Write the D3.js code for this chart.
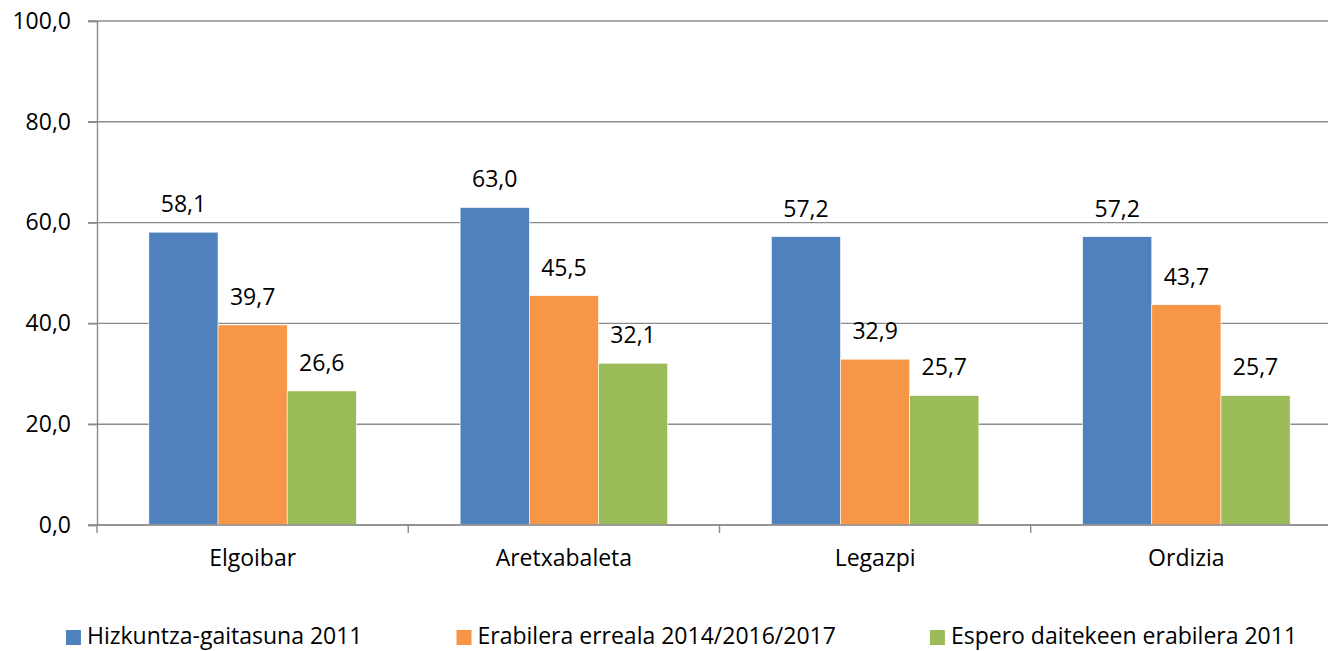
<!DOCTYPE html>
<html>
<head>
<meta charset="utf-8">
<script src="https://cdn.jsdelivr.net/npm/d3@7"></script>
<style>
    body { margin: 0; background: #fff; }
    text { font-family: "Open Sans", "Noto Sans", sans-serif; fill: #000; }
</style>
</head>
<body>
<div id="chart"></div>
<script>
// Data
const towns = ['Elgoibar', 'Aretxabaleta', 'Legazpi', 'Ordizia'];
const seriesNames = ['Hizkuntza-gaitasuna 2011', 'Erabilera erreala 2014/2016/2017', 'Espero daitekeen erabilera 2011'];
const gaitasuna = [58.1, 63.0, 57.2, 57.2];
const erabilera = [39.7, 45.5, 32.9, 43.7];
const espero = [26.6, 32.1, 25.7, 25.7];
const yTicks = [0, 20, 40, 60, 80, 100];

const colors = ['#4f81bd', '#f79646', '#9bbb59'];

const config = {
    width: 1328,
    height: 651,
    left: 97,
    right: 1342,   // last band runs past the window edge, as in the picture
    top: 21,
    bottom: 525,
    fontSize: 23
};

const seriesValues = [gaitasuna, erabilera, espero];
const rows = towns.map((t, i) => ({
    town: t,
    values: seriesNames.map((s, j) => ({ series: s, idx: j, value: seriesValues[j][i] }))
}));

const svg = d3.select('#chart').append('svg')
    .attr('width', config.width)
    .attr('height', config.height);

// Scales
const x = d3.scaleBand()
    .domain(towns)
    .range([config.left, config.right])
    .paddingInner(0)
    .paddingOuter(0);

const xSub = d3.scaleBand()
    .domain(seriesNames)
    .range([0, x.bandwidth()])
    .paddingInner(0)
    .paddingOuter(0.75);

const y = d3.scaleLinear()
    .domain([0, 100])
    .range([config.bottom, config.top]);

const fmt = v => d3.format('.1f')(v).replace('.', ',');

// Gridlines
svg.append('g')
    .attr('class', 'grid')
    .selectAll('line')
    .data(yTicks)
    .join('line')
    .attr('x1', config.left - 9)
    .attr('x2', config.width)
    .attr('y1', d => y(d))
    .attr('y2', d => y(d))
    .style('stroke', '#8c8c8c')
    .style('stroke-width', 1.4);

// Y axis
const yAxis = svg.append('g')
    .attr('transform', `translate(${config.left},0)`)
    .call(d3.axisLeft(y).tickValues(yTicks).tickFormat(fmt).tickSize(9).tickPadding(17));
yAxis.select('.domain').style('stroke', '#8c8c8c').style('stroke-width', 1.4);
yAxis.selectAll('.tick line').style('stroke', '#8c8c8c').style('stroke-width', 1.4);
yAxis.selectAll('.tick text')
    .style('font-size', config.fontSize + 'px')
    .style('font-family', '"Open Sans", sans-serif')
    .attr('fill', '#000');

// Bars
const groups = svg.append('g')
    .selectAll('g')
    .data(rows)
    .join('g')
    .attr('transform', d => `translate(${x(d.town)},0)`);

groups.selectAll('rect')
    .data(d => d.values)
    .join('rect')
    .attr('x', d => xSub(d.series))
    .attr('width', xSub.bandwidth())
    .attr('y', d => y(d.value))
    .attr('height', d => y(0) - y(d.value))
    .attr('fill', d => colors[d.idx])
    .style('stroke', '#fff')
    .style('stroke-width', 0.6);

// Data labels
groups.selectAll('.bar-label')
    .data(d => d.values)
    .join('text')
    .attr('class', 'bar-label')
    .attr('text-anchor', 'middle')
    .attr('x', d => xSub(d.series) + xSub.bandwidth() / 2)
    .attr('y', d => y(d.value) - 20)
    .style('font-size', config.fontSize + 'px')
    .text(d => fmt(d.value));

// X axis (drawn after bars so the baseline sits on top)
const xAxis = svg.append('g')
    .attr('transform', `translate(0,${config.bottom})`);
xAxis.append('line')
    .attr('x1', config.left)
    .attr('x2', config.width)
    .style('stroke', '#8c8c8c')
    .style('stroke-width', 1.4);
xAxis.selectAll('.cat-tick')
    .data(towns.concat(['end']))
    .join('line')
    .attr('class', 'cat-tick')
    .attr('x1', (d, i) => config.left + i * x.step())
    .attr('x2', (d, i) => config.left + i * x.step())
    .attr('y1', 0)
    .attr('y2', 8)
    .style('stroke', '#8c8c8c')
    .style('stroke-width', 1.4);
xAxis.selectAll('.cat-label')
    .data(towns)
    .join('text')
    .attr('class', 'cat-label')
    .attr('text-anchor', 'middle')
    .attr('x', d => x(d) + x.bandwidth() / 2)
    .attr('y', 41)
    .style('font-size', config.fontSize + 'px')
    .text(d => d);

// Legend, laid out from the measured text widths and centred
const legend = svg.append('g').attr('class', 'legend');
const items = legend.selectAll('g')
    .data(seriesNames)
    .join('g');
items.append('rect')
    .attr('width', 15)
    .attr('height', 15)
    .attr('y', 630)
    .attr('fill', (d, i) => colors[i]);
items.append('text')
    .attr('x', 21)
    .attr('y', 644)
    .style('font-size', config.fontSize + 'px')
    .text(d => d);

const gap = 94;
let widths = [];
items.each(function() {
    widths.push(21 + d3.select(this).select('text').node().getComputedTextLength());
});
const total = d3.sum(widths) + gap * (widths.length - 1);
let cursor = (64 + 1299) / 2 - total / 2;
items.attr('transform', (d, i) => {
    const t = `translate(${cursor},0)`;
    cursor += widths[i] + gap;
    return t;
});
</script>
</body>
</html>
